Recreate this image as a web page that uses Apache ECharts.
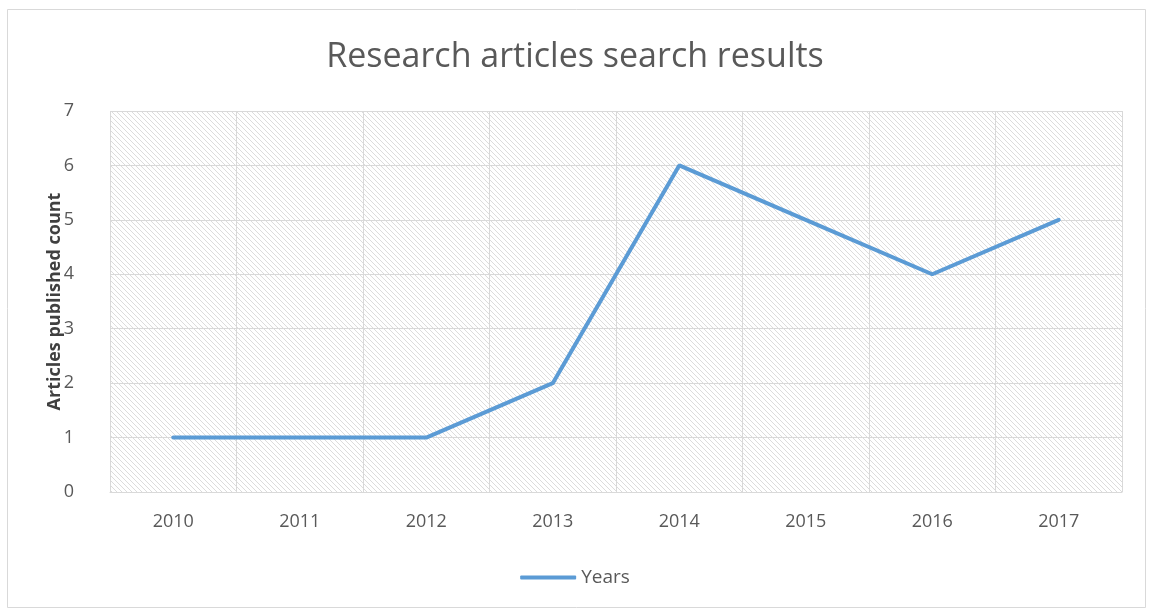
<!DOCTYPE html>
<html>
<head>
<meta charset="utf-8">
<script src="https://cdn.jsdelivr.net/npm/echarts@6/dist/echarts.min.js"></script>
<style>
  html, body { margin: 0; padding: 0; background: #fff; }
  #box { width: 1150px; height: 612px; }
</style>
</head>
<body>
<div id="box"></div>
<script>
var years = ['2010', '2011', '2012', '2013', '2014', '2015', '2016', '2017'];
var articleCounts = [1, 1, 1, 2, 6, 5, 4, 5];
var seriesName = 'Years';

// hatch pattern for plot background
var hatch = document.createElement('canvas');
hatch.width = 5;
hatch.height = 5;
var hc = hatch.getContext('2d');
hc.fillStyle = '#ffffff';
hc.fillRect(0, 0, 5, 5);
hc.strokeStyle = '#dcdcdc';
hc.lineWidth = 1;
hc.beginPath();
hc.moveTo(-1, -1); hc.lineTo(6, 6);
hc.moveTo(-1, 4); hc.lineTo(1, 6);
hc.moveTo(4, -1); hc.lineTo(6, 1);
hc.stroke();

var myChart = echarts.init(document.getElementById('box'));
var option = {
    backgroundColor: '#fff',
    textStyle: { fontFamily: 'Open Sans' },
    title: {
        text: 'Research articles search results',
        left: 'center',
        top: 35,
        textStyle: { fontSize: 34, fontWeight: 'normal', color: '#595959', fontFamily: 'Open Sans' }
    },
    legend: {
        data: [seriesName],
        bottom: 20,
        left: 'center',
        itemWidth: 56,
        itemHeight: 4,
        itemGap: 4,
        icon: 'roundRect',
        textStyle: { fontSize: 19, color: '#595959' }
    },
    grid: {
        left: 110,
        right: 28,
        top: 111,
        bottom: 120,
        show: true,
        borderWidth: 0,
        backgroundColor: { image: hatch, repeat: 'repeat' }
    },
    xAxis: {
        type: 'category',
        data: years,
        boundaryGap: true,
        axisLine: { show: true, lineStyle: { color: '#d9d9d9' } },
        axisTick: { show: false },
        axisLabel: { fontSize: 18, color: '#595959', margin: 21 },
        splitLine: { show: true, lineStyle: { color: '#d9d9d9' } }
    },
    yAxis: {
        type: 'value',
        min: 0,
        max: 7,
        interval: 1,
        name: 'Articles published count',
        nameLocation: 'middle',
        nameGap: 46,
        nameMoveOverlap: false,
        nameTextStyle: { fontSize: 18, fontWeight: 'bold', color: '#404040' },
        axisLine: { show: false },
        axisTick: { show: false },
        axisLabel: { fontSize: 18, color: '#595959', margin: 36 },
        splitLine: { show: true, lineStyle: { color: '#d9d9d9' } }
    },
    graphic: [{
        type: 'rect',
        left: 5,
        top: 7,
        shape: { width: 1138, height: 598 },
        style: { fill: 'none', stroke: '#d9d9d9', lineWidth: 1 },
        silent: true
    }],
    series: [{
        name: seriesName,
        type: 'line',
        data: articleCounts,
        symbol: 'none',
        lineStyle: { width: 4, color: '#5b9bd5', cap: 'round' },
        itemStyle: { color: '#5b9bd5' }
    }]
};
myChart.setOption(option);
</script>
</body>
</html>
